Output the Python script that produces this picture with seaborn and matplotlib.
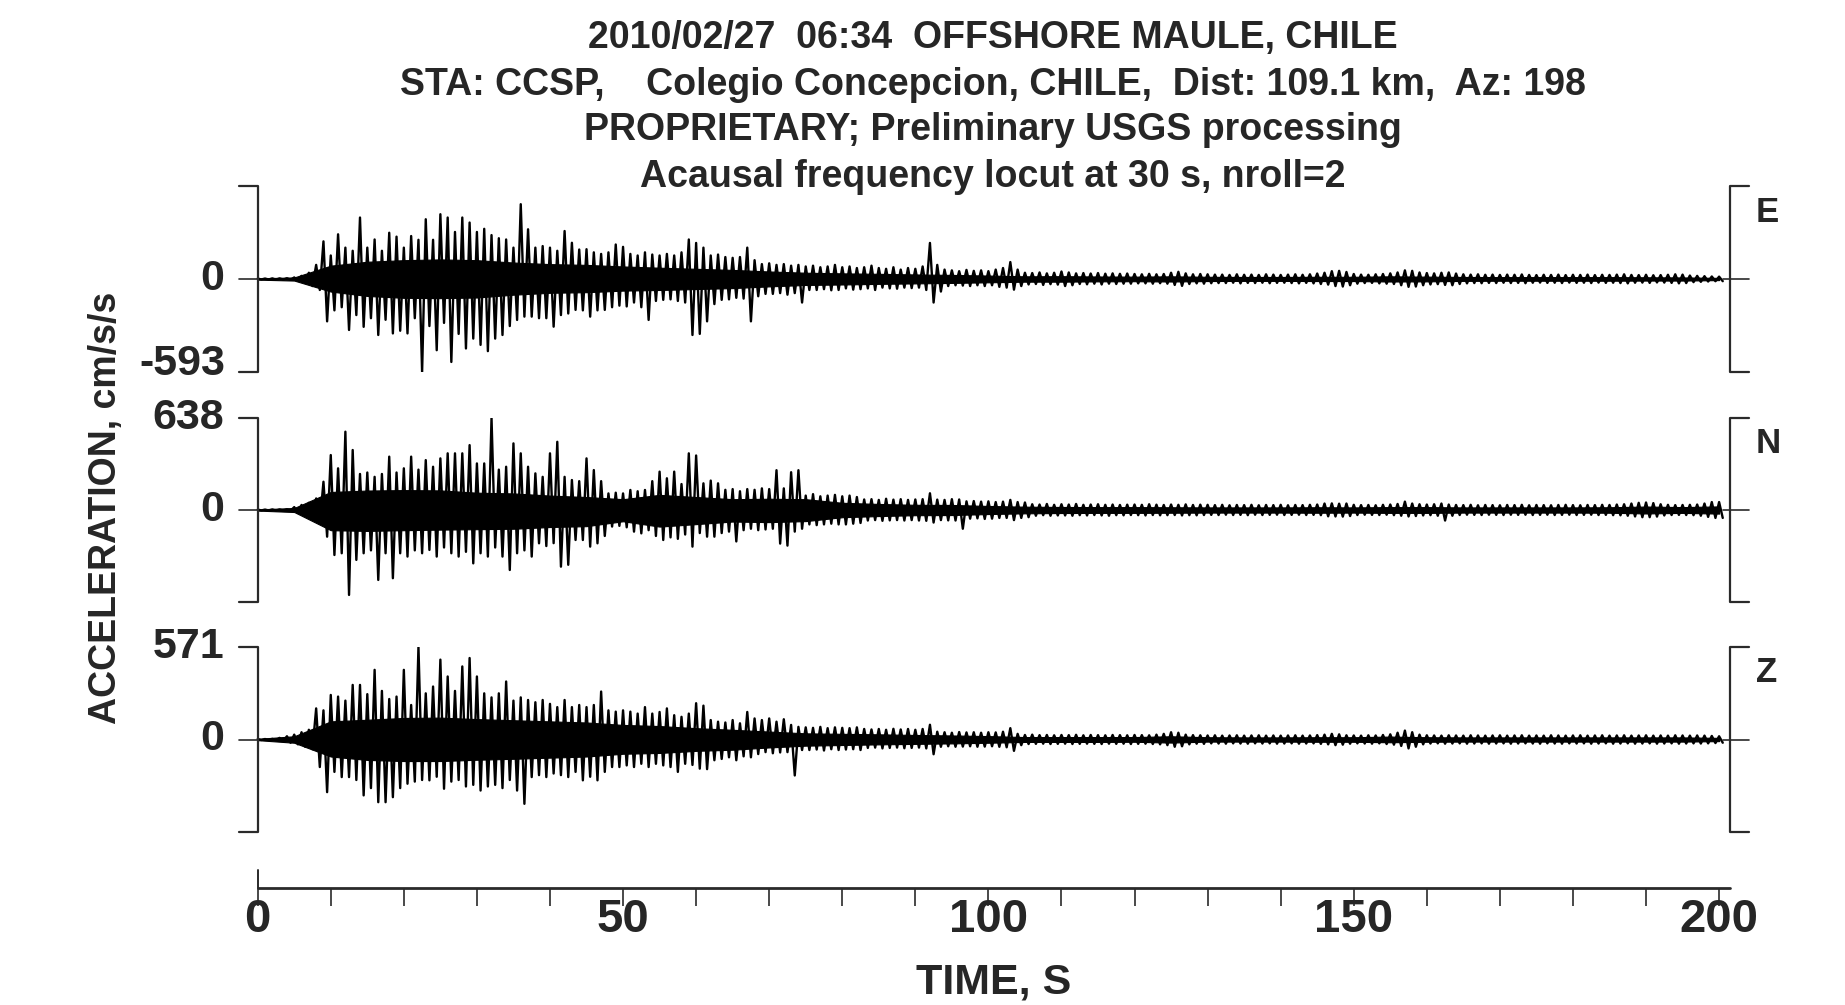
import numpy as np
import matplotlib
matplotlib.use("Agg")
import matplotlib.pyplot as plt
import seaborn as sns

# ---- text ----
title_lines = [
    "2010/02/27  06:34  OFFSHORE MAULE, CHILE",
    "STA: CCSP,    Colegio Concepcion, CHILE,  Dist: 109.1 km,  Az: 198",
    "PROPRIETARY; Preliminary USGS processing",
    "Acausal frequency locut at 30 s, nroll=2",
]
components = ["E", "N", "Z"]
peak_amp = [593, 638, 571]          # cm/s/s, panel half-range
time_ticks = [0, 50, 100, 150, 200]

# ---- traces: positive / negative peak per second (cm/s/s) ----
seconds = np.arange(201)

e_pos = [3, 3, 4, 4, 5, 10, 20, 40, 90, 240,
         150, 285, 200, 180, 392, 200, 252, 180, 295, 270,
         200, 274, 250, 381, 250, 413, 392, 300, 392, 360,
         300, 320, 280, 260, 252, 200, 477, 317, 200, 210,
         200, 180, 306, 231, 188, 190, 170, 160, 170, 220,
         205, 160, 150, 170, 156, 150, 160, 150, 170, 252,
         230, 200, 150, 156, 140, 135, 140, 200, 120, 95,
         100, 90, 95, 85, 90, 80, 85, 75, 80, 90,
         75, 80, 70, 75, 85, 70, 65, 75, 60, 70,
         65, 80, 230, 90, 60, 55, 50, 58, 52, 55,
         50, 60, 70, 108, 60, 40, 38, 42, 36, 40,
         48, 42, 36, 38, 35, 38, 34, 36, 33, 35,
         32, 30, 33, 30, 32, 40, 46, 36, 30, 32,
         30, 28, 28, 26, 30, 27, 28, 26, 30, 28,
         26, 28, 30, 27, 30, 35, 40, 50, 52, 45,
         32, 28, 27, 30, 32, 36, 42, 55, 52, 42,
         38, 36, 40, 42, 35, 30, 28, 30, 27, 28,
         26, 28, 27, 29, 26, 25, 27, 26, 28, 25,
         27, 26, 28, 25, 27, 26, 28, 30, 26, 25,
         27, 24, 25, 27, 30, 28, 22, 20, 18, 16,
         15]
e_neg = [-3, -3, -4, -4, -5, -10, -25, -45, -70, -270,
         -200, -180, -325, -230, -305, -250, -357, -260, -347, -330,
         -347, -250, -593, -300, -454, -280, -529, -350, -443, -380,
         -420, -460, -380, -357, -300, -261, -240, -240, -250, -250,
         -304, -230, -220, -197, -200, -240, -200, -197, -180, -170,
         -175, -150, -180, -261, -140, -133, -130, -140, -150, -357,
         -350, -270, -160, -133, -130, -120, -125, -270, -110, -95,
         -95, -90, -100, -90, -150, -70, -70, -65, -72, -70,
         -60, -68, -65, -60, -70, -55, -60, -62, -55, -58,
         -55, -70, -150, -80, -45, -40, -42, -45, -40, -45,
         -40, -50, -55, -68, -45, -35, -32, -38, -33, -36,
         -45, -40, -32, -34, -30, -35, -30, -32, -30, -30,
         -28, -28, -30, -27, -30, -38, -44, -32, -28, -30,
         -27, -26, -26, -24, -28, -25, -26, -24, -27, -25,
         -24, -26, -28, -25, -28, -32, -36, -45, -48, -40,
         -30, -26, -25, -28, -30, -32, -40, -50, -48, -40,
         -35, -33, -38, -40, -32, -28, -26, -27, -25, -26,
         -24, -26, -25, -27, -24, -23, -25, -24, -26, -23,
         -25, -24, -26, -23, -25, -24, -26, -28, -24, -23,
         -25, -22, -23, -25, -28, -26, -20, -18, -16, -14,
         -14]

n_pos = [3, 3, 4, 4, 5, 20, 35, 50, 80, 196,
         381, 289, 543, 416, 250, 260, 230, 250, 370, 260,
         289, 370, 280, 346, 300, 358, 393, 393, 393, 450,
         323, 323, 638, 280, 300, 462, 393, 300, 254, 230,
         393, 473, 230, 208, 200, 358, 277, 200, 115, 120,
         115, 139, 130, 139, 200, 266, 220, 266, 180, 393,
         378, 185, 204, 185, 140, 145, 130, 145, 140, 150,
         145, 276, 150, 262, 276, 100, 110, 95, 100, 105,
         95, 100, 90, 73, 75, 70, 78, 72, 75, 70,
         73, 75, 116, 72, 70, 75, 73, 60, 62, 58,
         60, 55, 58, 70, 55, 52, 40, 38, 42, 36,
         40, 38, 42, 36, 38, 40, 36, 38, 35, 37,
         38, 36, 40, 37, 35, 38, 36, 39, 35, 37,
         36, 34, 36, 33, 35, 34, 36, 33, 35, 34,
         36, 33, 35, 34, 36, 38, 45, 46, 44, 45,
         36, 34, 35, 33, 36, 38, 42, 58, 45, 40,
         38, 40, 45, 38, 35, 34, 36, 33, 35, 34,
         33, 35, 34, 36, 33, 35, 34, 33, 35, 36,
         34, 33, 35, 34, 36, 35, 38, 40, 45, 50,
         52, 48, 40, 36, 34, 35, 36, 38, 45, 55,
         55]
n_neg = [-3, -3, -4, -4, -5, -20, -35, -55, -90, -185,
         -312, -300, -589, -346, -300, -280, -485, -300, -473, -300,
         -323, -280, -300, -277, -323, -260, -300, -323, -290, -370,
         -300, -323, -260, -323, -416, -300, -280, -323, -231, -250,
         -230, -393, -380, -208, -208, -254, -231, -180, -115, -110,
         -120, -150, -162, -140, -180, -208, -190, -200, -170, -254,
         -160, -185, -185, -160, -150, -218, -140, -130, -140, -135,
         -130, -233, -247, -150, -130, -100, -105, -100, -95, -100,
         -100, -95, -90, -73, -70, -75, -72, -70, -73, -70,
         -73, -75, -87, -70, -72, -73, -130, -60, -58, -62,
         -60, -55, -55, -70, -55, -50, -40, -36, -40, -38,
         -38, -40, -36, -38, -35, -38, -40, -36, -37, -35,
         -36, -38, -35, -37, -36, -35, -38, -36, -37, -35,
         -34, -35, -33, -35, -34, -36, -33, -35, -34, -33,
         -35, -34, -33, -35, -34, -36, -44, -45, -46, -42,
         -35, -33, -34, -35, -33, -36, -40, -45, -42, -38,
         -36, -40, -73, -40, -35, -33, -34, -35, -33, -34,
         -35, -33, -34, -33, -35, -34, -33, -35, -34, -33,
         -35, -34, -33, -35, -34, -36, -37, -40, -45, -50,
         -50, -46, -38, -35, -34, -35, -36, -40, -48, -55,
         -55]

z_pos = [3, 3, 4, 10, 20, 30, 45, 60, 192, 180,
         275, 265, 240, 337, 337, 280, 430, 300, 250, 265,
         430, 213, 571, 285, 327, 493, 389, 300, 451, 503,
         389, 285, 260, 285, 358, 240, 260, 244, 230, 244,
         220, 200, 244, 200, 213, 200, 213, 296, 180, 172,
         180, 172, 160, 200, 160, 170, 192, 150, 140, 160,
         224, 209, 120, 110, 105, 120, 100, 170, 130, 120,
         130, 110, 125, 90, 78, 75, 72, 78, 70, 75,
         72, 70, 75, 65, 62, 65, 60, 66, 62, 65,
         60, 65, 91, 48, 45, 42, 46, 44, 45, 42,
         45, 44, 48, 70, 35, 28, 30, 27, 28, 26,
         28, 27, 29, 26, 28, 27, 26, 28, 27, 26,
         28, 27, 26, 30, 35, 45, 42, 30, 27, 26,
         25, 26, 24, 25, 26, 24, 25, 26, 24, 25,
         24, 25, 26, 24, 25, 27, 30, 35, 32, 26,
         25, 24, 26, 25, 28, 32, 42, 55, 45, 30,
         26, 25, 24, 26, 25, 24, 26, 25, 24, 25,
         26, 24, 25, 26, 24, 25, 24, 26, 25, 24,
         25, 26, 24, 25, 26, 24, 25, 26, 24, 25,
         26, 24, 25, 24, 26, 25, 24, 25, 24, 22,
         20]
z_neg = [-3, -3, -4, -10, -20, -30, -45, -60, -170, -325,
         -200, -232, -232, -250, -345, -300, -387, -387, -356, -300,
         -273, -260, -250, -252, -230, -304, -260, -250, -290, -280,
         -315, -290, -280, -300, -250, -315, -397, -232, -220, -232,
         -210, -220, -232, -200, -252, -230, -252, -200, -170, -170,
         -160, -170, -150, -170, -150, -160, -170, -200, -150, -157,
         -180, -183, -128, -120, -110, -128, -104, -110, -90, -78,
         -85, -80, -78, -222, -65, -65, -62, -68, -60, -65,
         -62, -60, -65, -52, -50, -55, -52, -50, -54, -52,
         -50, -55, -91, -45, -42, -45, -44, -42, -45, -44,
         -42, -45, -48, -70, -35, -28, -27, -26, -28, -27,
         -26, -28, -27, -26, -27, -28, -26, -27, -26, -28,
         -27, -26, -28, -30, -35, -45, -42, -30, -26, -27,
         -24, -25, -26, -24, -25, -26, -24, -25, -24, -26,
         -25, -24, -26, -25, -24, -27, -30, -35, -32, -26,
         -24, -25, -26, -24, -28, -32, -40, -55, -45, -30,
         -25, -24, -26, -25, -24, -26, -25, -24, -26, -25,
         -24, -26, -25, -24, -25, -26, -24, -25, -26, -24,
         -25, -24, -26, -25, -24, -26, -25, -24, -26, -25,
         -24, -26, -25, -24, -26, -25, -24, -25, -24, -22,
         -20]

# ---- solid core of each record, every 5 s (cm/s/s) ----
core_t = np.arange(0, 201, 5)
e_core_hi = [4, 10, 85, 110, 120, 125, 120, 105, 95, 90, 80, 72, 65, 58, 48, 40, 36, 33,
             29, 26, 22, 17, 18, 16, 15, 17, 14, 13, 13, 14, 14, 17, 15, 13, 12, 12, 12, 12,
             11, 10, 7]
e_core_lo = [-4, -10, -80, -108, -120, -122, -118, -100, -88, -84, -74, -70, -64, -58, -47,
             -38, -35, -31, -28, -25, -21, -17, -17, -15, -14, -16, -13, -12, -12, -13, -13,
             -16, -15, -12, -11, -11, -11, -11, -10, -10, -7]
n_core_hi = [4, 14, 125, 135, 138, 136, 120, 115, 100, 90, 75, 105, 90, 75, 78, 75, 50, 42,
             36, 35, 28, 23, 21, 20, 20, 19, 18, 18, 18, 19, 18, 20, 20, 18, 18, 18, 18, 19,
             24, 20, 25]
n_core_lo = [-4, -14, -140, -145, -140, -136, -133, -130, -118, -112, -78, -115, -98, -80,
             -84, -77, -50, -42, -36, -35, -28, -23, -21, -20, -20, -19, -18, -18, -18, -19,
             -18, -20, -20, -18, -18, -18, -18, -19, -24, -20, -25]
z_core_hi = [4, 20, 112, 122, 133, 135, 126, 119, 112, 105, 90, 83, 70, 60, 49, 38, 35, 32,
             28, 25, 21, 15, 15, 15, 15, 20, 14, 13, 13, 14, 14, 18, 14, 13, 13, 13, 13, 13,
             13, 13, 10]
z_core_lo = [-4, -20, -105, -126, -133, -133, -125, -119, -112, -105, -88, -83, -70, -63,
             -49, -38, -34, -30, -27, -24, -20, -15, -15, -15, -14, -19, -13, -13, -13, -14,
             -14, -17, -14, -13, -13, -13, -13, -13, -13, -13, -10]

traces = {"E": (e_pos, e_neg, e_core_hi, e_core_lo),
          "N": (n_pos, n_neg, n_core_hi, n_core_lo),
          "Z": (z_pos, z_neg, z_core_hi, z_core_lo)}

sns.set_theme(style="white")
plt.rcParams["font.family"] = ["Liberation Sans", "DejaVu Sans"]

FIG_W, FIG_H = 1845, 1005
X0_PX, PX_PER_S = 257.7, 7.307       # pixel of t=0 and pixels per second
T_MIN, T_MAX = -5, 205
ax_left = (X0_PX + T_MIN * PX_PER_S) / FIG_W
ax_width = (T_MAX - T_MIN) * PX_PER_S / FIG_W
panel_px = [(186, 372), (418, 602), (647, 832)]   # top, bottom in pixels
ink = "#2a2a2a"

fig = plt.figure(figsize=(18.45, 10.05), dpi=100)

for comp, amp, (top, bot) in zip(components, peak_amp, panel_px):
    ax = fig.add_axes([ax_left, 1 - bot / FIG_H, ax_width, (bot - top) / FIG_H])
    pos, neg, core_hi, core_lo = traces[comp]
    x = np.column_stack([seconds, seconds + 0.5]).ravel()
    y = np.column_stack([pos, neg]).ravel()
    ax.fill_between(core_t, core_lo, core_hi, color="black", linewidth=0.8)
    sns.lineplot(x=x, y=y, ax=ax, color="black", linewidth=1.7,
                 estimator=None, sort=False)
    ax.set_xlim(T_MIN, T_MAX)
    ax.set_ylim(-amp, amp)
    ax.axis("off")

    # brackets on both sides, with zero ticks
    ax.plot([-2.6, 0, 0, -2.6], [amp, amp, -amp, -amp], color=ink, lw=1.6, clip_on=False)
    ax.plot([-2.6, 0], [0, 0], color=ink, lw=1.2, clip_on=False)
    ax.plot([204.1, 201.5, 201.5, 204.1], [amp, amp, -amp, -amp], color=ink, lw=1.6, clip_on=False)
    ax.plot([200.5, 204.1], [0, 0], color=ink, lw=1.2, clip_on=False)

    ax.text(-4.6, 0, "0", ha="right", va="center", fontsize=31, fontweight="bold")
    if comp == "E":
        ax.annotate(f"-{amp}", xy=(-4.4, -amp), xytext=(0, 6), textcoords="offset points",
                    ha="right", va="center", fontsize=31, fontweight="bold")
    else:
        ax.text(-4.6, amp, f"{amp}", ha="right", va="center", fontsize=31, fontweight="bold")
    ax.text(205.0, 0.86, comp, transform=ax.get_xaxis_transform(),
            ha="left", va="center", fontsize=25, fontweight="bold")

# time axis
tax = fig.add_axes([ax_left, 1 - 888 / FIG_H, ax_width, 18 / FIG_H])
tax.set_xlim(T_MIN, T_MAX)
tax.set_ylim(0, 1)
for s in tax.spines.values():
    s.set_visible(False)
tax.plot([0, 201.5], [0, 0], color=ink, lw=2, clip_on=False)
tax.plot([0, 0], [0, 1], color=ink, lw=1.4, clip_on=False)
tax.set_yticks([])
tax.set_xticks(time_ticks)
tax.set_xticklabels([str(t) for t in time_ticks], fontsize=34, fontweight="bold")
tax.set_xticks(np.arange(0, 201, 10), minor=True)
tax.tick_params(axis="x", which="both", bottom=True, direction="out",
                length=13, width=1.2, color=ink)
tax.tick_params(axis="x", which="major", pad=-6)

fig.text(994 / FIG_W, 1 - 982 / FIG_H, "TIME, S", ha="center", va="center",
         fontsize=31, fontweight="bold")
fig.text(106 / FIG_W, 1 - 508 / FIG_H, "ACCELERATION, cm/s/s", rotation=90,
         ha="center", va="center", fontsize=27, fontweight="bold")

for line, ypx in zip(title_lines, [38, 85, 130, 177]):
    fig.text(993 / FIG_W, 1 - ypx / FIG_H, line, ha="center", va="center",
             fontsize=27, fontweight="bold")

fig.savefig("out.png", dpi=100)
